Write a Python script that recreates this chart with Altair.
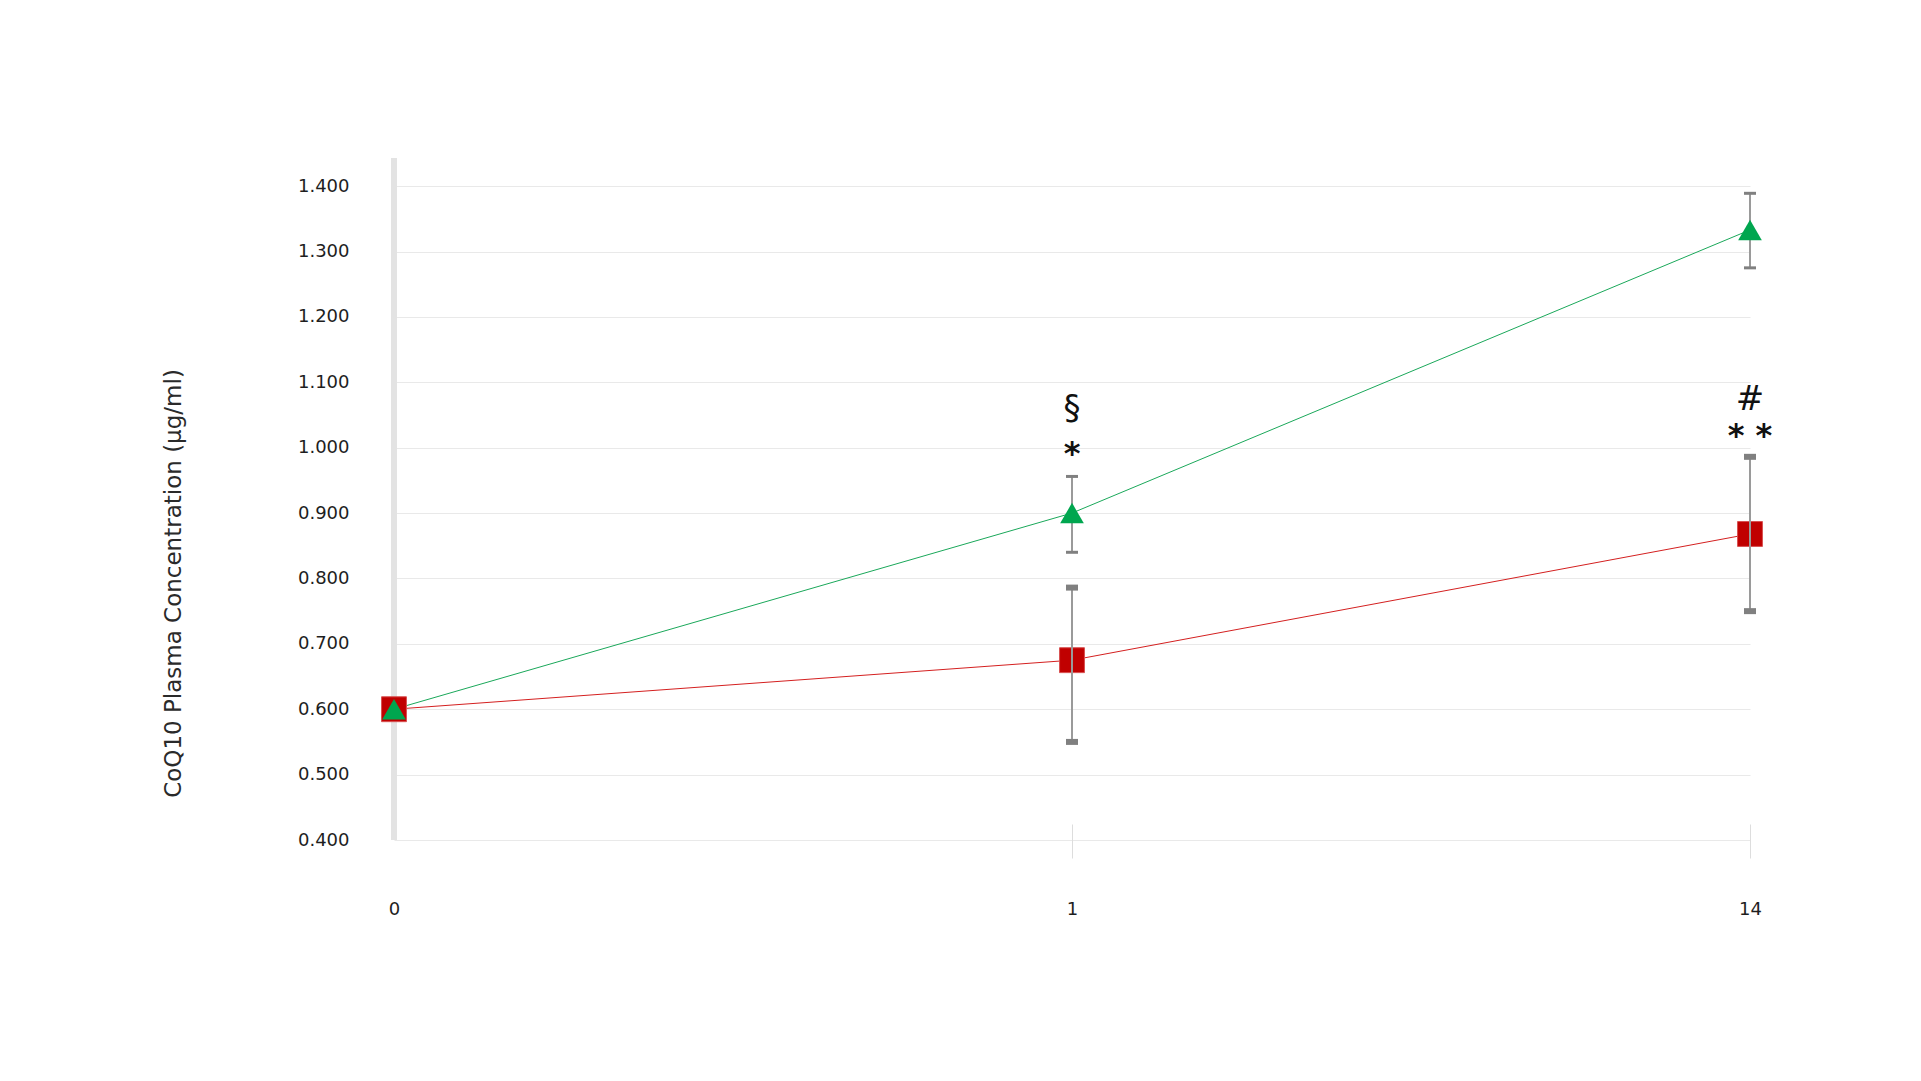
import altair as alt
import pandas as pd

days = ["0", "1", "14"]
green_mean = [0.600, 0.900, 1.333]
green_lo = [None, 0.840, 1.275]
green_hi = [None, 0.956, 1.389]
red_mean = [0.600, 0.675, 0.868]
red_lo = [None, 0.550, 0.750]
red_hi = [None, 0.786, 0.986]
y_ticks = [0.4, 0.5, 0.6, 0.7, 0.8, 0.9, 1.0, 1.1, 1.2, 1.3, 1.4]

ann_day = ["1", "1", "14", "14"]
ann_val = [1.059, 0.995, 1.073, 1.022]
ann_txt = ["§", "*", "#", "* *"]
ann_kind = ["sym", "star", "sym", "star"]

green = pd.DataFrame({"day": days, "mean": green_mean, "lo": green_lo, "hi": green_hi})
red = pd.DataFrame({"day": days, "mean": red_mean, "lo": red_lo, "hi": red_hi})
ann = pd.DataFrame({"day": ann_day, "v": ann_val, "t": ann_txt, "k": ann_kind})
bar = pd.DataFrame({"day": ["0"], "lo": [0.4], "hi": [1.443]})

W, H = 1372, 682
FONT = "DejaVu Sans"

xscale = alt.Scale(type="point", domain=days, range=[16, W], padding=0)
yscale = alt.Scale(domain=[0.4, 1.443], nice=False, zero=False)

X = alt.X("day:N", sort=days, scale=xscale, title=None,
          axis=alt.Axis(labelAngle=0, domain=False, ticks=True, tickSize=34, offset=-16,
                        tickColor={"condition": {"test": "datum.value == 0", "value": "transparent"},
                                   "value": "#dddddd"},
                        tickWidth=1, grid=False, labelPadding=42, labelFontSize=18,
                        labelFont=FONT, labelColor="#1e1e1e"))
Y = alt.Y("mean:Q", scale=yscale,
          axis=alt.Axis(values=y_ticks, format=".3f", grid=True, gridColor="#e9e9e9",
                        domain=False, ticks=False, tickSize=0, labelPadding=29,
                        labelFontSize=18, labelFont=FONT, labelColor="#1e1e1e",
                        title="CoQ10 Plasma Concentration (µg/ml)", titleFontSize=23,
                        titleFontWeight="normal", titleFont=FONT, titleColor="#2a2a2a",
                        titlePadding=112, titleY=425))

greybar = alt.Chart(bar).mark_rule(color="#e3e3e3", strokeWidth=6).encode(
    x=X, y=alt.Y("lo:Q", scale=yscale), y2="hi:Q")

red_line = alt.Chart(red).mark_line(color="#d42020", strokeWidth=1).encode(x=X, y=Y)
green_line = alt.Chart(green).mark_line(color="#1aa85a", strokeWidth=1).encode(x=X, y=Y)

red_pts = alt.Chart(red).mark_point(shape="square", filled=True, size=620, color="#c00000",
                                    opacity=1, stroke="#d85050", strokeWidth=1).encode(x=X, y=Y)

def errbars(df, cap_thick):
    base = alt.Chart(df.dropna())
    rule = base.mark_rule(color="#9a9a9a", strokeWidth=2).encode(
        x=X, y=alt.Y("lo:Q", scale=yscale), y2="hi:Q")
    cap_lo = base.mark_tick(color="#808080", size=12, thickness=cap_thick, opacity=1).encode(
        x=X, y=alt.Y("lo:Q", scale=yscale))
    cap_hi = base.mark_tick(color="#808080", size=12, thickness=cap_thick, opacity=1).encode(
        x=X, y=alt.Y("hi:Q", scale=yscale))
    return rule + cap_lo + cap_hi

green_pts = alt.Chart(green).mark_point(shape="triangle-up", filled=True, size=560,
                                        color="#00a64f", opacity=1).encode(x=X, y=Y)

ann_sym = alt.Chart(ann[ann.k == "sym"]).mark_text(font="DejaVu Sans", fontSize=34,
                                                  color="#111111", baseline="middle").encode(
    x=X, y=alt.Y("v:Q", scale=yscale), text="t:N")
ann_star = alt.Chart(ann[ann.k == "star"]).mark_text(font="DejaVu Sans", fontSize=32,
                                                    fontWeight="bold", color="#111111",
                                                    baseline="middle", dy=3).encode(
    x=X, y=alt.Y("v:Q", scale=yscale), text="t:N")

chart = alt.layer(
    greybar, red_line, green_line, red_pts, errbars(red, 6), errbars(green, 3),
    green_pts, ann_sym, ann_star
).properties(
    width=W, height=H,
    padding={"left": 154, "top": 147, "right": 20, "bottom": 20},
    background="white"
).configure_view(stroke="transparent", strokeWidth=0)

chart.save("out.html", embed_options={"renderer": "svg", "actions": False})
